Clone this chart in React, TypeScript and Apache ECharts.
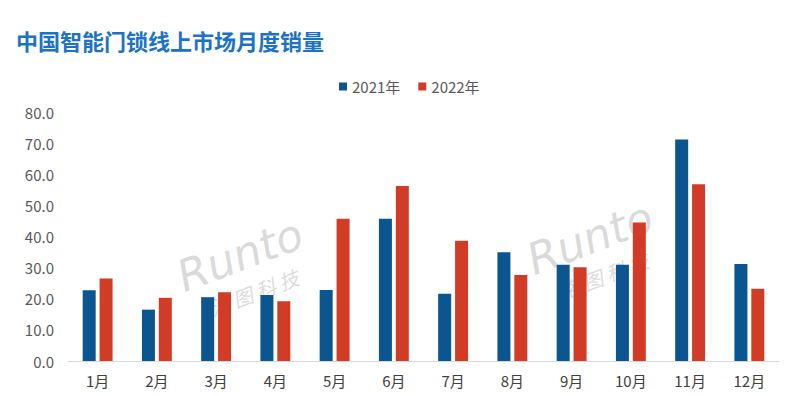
import React, { useEffect, useRef } from "react";
import * as echarts from "echarts";

const categories = ["1月", "2月", "3月", "4月", "5月", "6月", "7月", "8月", "9月", "10月", "11月", "12月"];
const sales2021 = [22.7, 16.5, 20.5, 21.2, 22.8, 45.7, 21.6, 34.9, 30.9, 30.9, 71.2, 31.2];
const sales2022 = [26.5, 20.3, 22.1, 19.2, 45.7, 56.2, 38.6, 27.6, 30.1, 44.5, 56.8, 23.2];
const seriesNames = ["2021年", "2022年"];
const titleText = "中国智能门锁线上市场月度销量";

export default function App() {
  const ref = useRef<HTMLDivElement>(null);
  useEffect(() => {
    if (!ref.current) return;
    const chart = echarts.init(ref.current, null, { renderer: "svg" });
    const font = "'Noto Sans CJK SC', 'Noto Sans', sans-serif";
    const watermark = (cx: number, cy: number) => ({
      type: "group",
      x: cx,
      y: cy,
      rotation: 0.36,
      silent: true,
      children: [
        {
          type: "text",
          x: 0,
          y: 0,
          style: {
            text: "Runto",
            fontSize: 44,
            fontStyle: "italic",
            fontFamily: "'DejaVu Sans', sans-serif",
            fill: "rgba(150,150,150,0.35)",
            align: "center",
            verticalAlign: "middle",
          },
        },
        {
          type: "text",
          x: 0,
          y: 40,
          style: {
            text: "洛 图 科 技",
            fontSize: 20,
            fontStyle: "italic",
            fontFamily: font,
            fill: "rgba(150,150,150,0.35)",
            align: "center",
            verticalAlign: "middle",
          },
        },
      ],
    });
    chart.setOption({
      animation: false,
      backgroundColor: "#ffffff",
      title: {
        text: titleText,
        left: 11,
        top: 24,
        textStyle: {
          fontSize: 22,
          fontWeight: "bold",
          color: "#1c72c4",
          fontFamily: font,
        },
      },
      legend: {
        data: seriesNames,
        top: 74,
        left: 334,
        itemWidth: 8,
        itemHeight: 8,
        itemGap: 18,
        icon: "rect",
        textStyle: { fontSize: 15, color: "#595959", fontFamily: font },
      },
      grid: { left: 68, right: 21, top: 112, bottom: 35, containLabel: false },
      xAxis: {
        type: "category",
        data: categories,
        axisLine: { lineStyle: { color: "#d9d9d9", width: 1 } },
        axisTick: { show: false },
        axisLabel: { fontSize: 15, color: "#404040", margin: 12, fontFamily: font },
      },
      yAxis: {
        type: "value",
        min: 0,
        max: 80,
        interval: 10,
        splitLine: { show: false },
        axisLine: { show: false },
        axisTick: { show: false },
        axisLabel: {
          fontSize: 15,
          color: "#595959",
          margin: 14,
          fontFamily: font,
          formatter: (v: number) => v.toFixed(1),
        },
      },
      graphic: [watermark(240, 255), watermark(590, 238)],
      series: [
        {
          name: seriesNames[0],
          type: "bar",
          data: sales2021,
          barWidth: 13,
          barGap: "30%",
          itemStyle: { color: "#0b5590" },
        },
        {
          name: seriesNames[1],
          type: "bar",
          data: sales2022,
          barWidth: 13,
          itemStyle: { color: "#d23c26" },
        },
      ],
    });
    return () => chart.dispose();
  }, []);
  return <div ref={ref} style={{ position: "fixed", left: 0, top: 0, width: 800, height: 396 }} />;
}
